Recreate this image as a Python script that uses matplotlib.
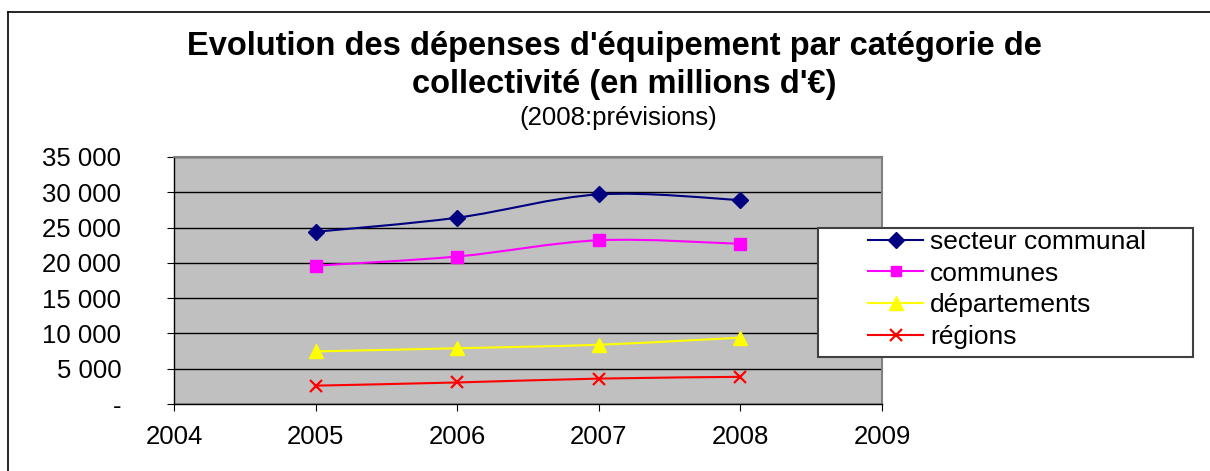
import matplotlib
matplotlib.use('Agg')
import matplotlib.pyplot as plt
from matplotlib.path import Path
from matplotlib.patches import PathPatch, Rectangle
from matplotlib.lines import Line2D
from matplotlib.ticker import FuncFormatter
import numpy as np

# données
annees = [2005, 2006, 2007, 2008]
secteur_communal = [24400, 26400, 29700, 28900]
communes = [19600, 20900, 23200, 22700]
departements = [7450, 7900, 8400, 9400]
regions = [2600, 3050, 3600, 3850]

series = [
    ('secteur communal', secteur_communal, '#000080', 'D', 8.5),
    ('communes', communes, '#FF00FF', 's', 8),
    ('départements', departements, '#FFFF00', '^', 10),
    ('régions', regions, '#FF0000', 'x', 9),
]

plt.rcParams['font.family'] = ['Liberation Sans', 'DejaVu Sans']


def smooth_path(x, y):
    """courbe lissée façon Excel (Bézier cubique de type Catmull-Rom)"""
    pts = np.column_stack([x, y]).astype(float)
    ext = np.vstack([pts[0], pts, pts[-1]])
    verts = [pts[0]]
    codes = [Path.MOVETO]
    for i in range(len(pts) - 1):
        p0, p1, p2, p3 = ext[i], ext[i + 1], ext[i + 2], ext[i + 3]
        c1 = p1 + (p2 - p0) / 6.0
        c2 = p2 - (p3 - p1) / 6.0
        verts += [c1, c2, p2]
        codes += [Path.CURVE4] * 3
    return Path(verts, codes)


fig = plt.figure(figsize=(12.1, 4.71), dpi=100)
ax = fig.add_axes([174 / 1210, 1 - 404 / 471, (882 - 174) / 1210, (404 - 157) / 471])
ax.set_facecolor('#C0C0C0')

for label, vals, color, marker, ms in series:
    patch = PathPatch(smooth_path(annees, vals), fill=False, edgecolor=color,
                      lw=1.5, zorder=3)
    ax.add_patch(patch)
    if marker == 'x':
        ax.plot(annees, vals, linestyle='none', marker=marker, color=color,
                markersize=ms, markeredgewidth=1.6, zorder=4)
    else:
        ax.plot(annees, vals, linestyle='none', marker=marker, color=color,
                markersize=ms, markeredgecolor=color, zorder=4)

ax.set_xlim(2004, 2009)
ax.set_ylim(0, 35000)
ax.set_xticks(range(2004, 2010))
ax.set_yticks(range(0, 35001, 5000))
ax.yaxis.set_major_formatter(FuncFormatter(
    lambda v, p: '-' if v == 0 else f'{int(v):,}'.replace(',', ' ')))
ax.grid(axis='y', color='black', lw=1)
ax.set_axisbelow(True)
for s in ['top', 'right']:
    ax.spines[s].set_color('#808080')
    ax.spines[s].set_linewidth(1.5)
for s in ['left', 'bottom']:
    ax.spines[s].set_color('black')
    ax.spines[s].set_linewidth(1)
ax.tick_params(axis='y', direction='out', length=5, pad=33, labelsize=18.5)
ax.tick_params(axis='x', direction='out', length=5, pad=10, labelsize=18.5)

# légende : cadre blanc dessiné à part, avec une marge à gauche
fig.add_artist(Rectangle((818 / 1210, 1 - 357 / 471), 375 / 1210, 129 / 471,
                         transform=fig.transFigure, facecolor='white',
                         edgecolor='#404040', lw=1.5, zorder=9))
handles = [Line2D([], [], color=c, marker=m, markersize=ms * 0.95,
                  markeredgewidth=1.6 if m == 'x' else 1, lw=1.5)
           for _, _, c, m, ms in series]
leg = fig.legend(handles, [s[0] for s in series],
                 loc='upper left', bbox_to_anchor=(868 / 1210, 1 - 230 / 471),
                 fontsize=19, frameon=False, handlelength=2.1, handletextpad=0.25,
                 borderpad=0, labelspacing=0.29, borderaxespad=0)
leg.set_zorder(10)

fig.text(614 / 1210, 1 - 46 / 471, "Evolution des dépenses d'équipement par catégorie de",
         ha='center', va='center', fontsize=23.5, fontweight='bold')
fig.text(624 / 1210, 1 - 84 / 471, "collectivité (en millions d'€)",
         ha='center', va='center', fontsize=23.5, fontweight='bold')
fig.text(618 / 1210, 1 - 118 / 471, "(2008:prévisions)",
         ha='center', va='center', fontsize=18.5)

# cadre extérieur
fig.add_artist(Line2D([8 / 1210, 1], [1 - 11.5 / 471] * 2, color='black', lw=1.2))
fig.add_artist(Line2D([8 / 1210] * 2, [0, 1 - 11.5 / 471], color='black', lw=1.2))

fig.savefig('out.png', dpi=100)
